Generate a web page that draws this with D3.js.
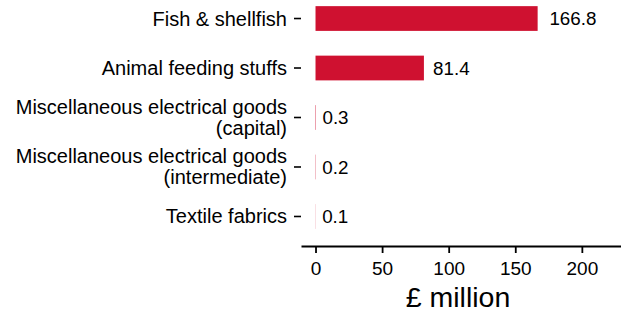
<!DOCTYPE html>
<html>
<head>
<meta charset="utf-8">
<script src="https://cdn.jsdelivr.net/npm/d3@7"></script>
<style>
  body { margin: 0; background: #fff; }
  svg { display: block; font-family: "Liberation Sans", Arial, sans-serif; }
  .axis text { fill: #000; }
  .axis line, .axis path { stroke: #000; }
</style>
</head>
<body>
<svg id="chart" width="621" height="314"></svg>
<script>
const categories = [
  'Fish & shellfish',
  'Animal feeding stuffs',
  'Miscellaneous electrical goods\n(capital)',
  'Miscellaneous electrical goods\n(intermediate)',
  'Textile fabrics'
]
const values = [166.8, 81.4, 0.3, 0.2, 0.1]
const valueLabels = ['166.8', '81.4', '0.3', '0.2', '0.1']
const xTicks = [0, 50, 100, 150, 200]
const xTitle = '£ million'

const data = categories.map((c, i) => ({ cat: c, value: values[i], label: valueLabels[i] }))

const svg = d3.select('#chart')
const axisY = 246

const x = d3.scaleLinear()
  .domain([-10.9, 229.4])
  .range([301, 621])

const y = d3.scaleBand()
  .domain(categories)
  .range([-18.6, 253.6])
  .padding(0.5)

// bars
svg.append('g')
  .selectAll('rect')
  .data(data)
  .join('rect')
    .attr('x', x(0))
    .attr('y', d => y(d.cat))
    .attr('width', d => x(d.value) - x(0))
    .attr('height', y.bandwidth())
    .attr('fill', '#cf1130')

// value labels (hjust -0.25 like the original)
const labels = svg.append('g')
  .selectAll('text')
  .data(data)
  .join('text')
    .attr('y', d => y(d.cat) + y.bandwidth() / 2)
    .attr('dy', '0.35em')
    .attr('font-size', 18.8)
    .attr('fill', '#000')
    .text(d => d.label)
labels.attr('x', function (d) {
  return x(d.value) + 0.25 * this.getComputedTextLength()
})

// y-axis (ticks only)
const yAxis = svg.append('g')
    .attr('class', 'axis y-axis')
    .attr('transform', `translate(301,0)`)
    .call(d3.axisLeft(y).tickSize(7).tickPadding(7))
yAxis.select('.domain').remove()
yAxis.selectAll('line').attr('stroke-width', 1.6)
yAxis.selectAll('text')
  .attr('font-size', 20)
  .each(function (d) {
    const lines = d.split('\n')
    const t = d3.select(this).text(null).attr('dy', null)
    const lh = 21
    lines.forEach((ln, i) => {
      t.append('tspan')
        .attr('x', -14)
        .attr('dy', i === 0 ? (0.35 * 20 - (lines.length - 1) * lh / 2) : lh)
        .text(ln)
    })
  })

// x-axis
const xAxis = svg.append('g')
    .attr('class', 'axis x-axis')
    .attr('transform', `translate(0,${axisY})`)
    .call(d3.axisBottom(x).tickValues(xTicks).tickSize(7).tickSizeOuter(0).tickPadding(9))
xAxis.select('.domain').attr('stroke-width', 2)
xAxis.selectAll('line').attr('stroke-width', 1.8)
xAxis.selectAll('text').attr('font-size', 19)

svg.append('text')
  .attr('x', 458)
  .attr('y', 307)
  .attr('text-anchor', 'middle')
  .attr('font-size', 28.5)
  .attr('fill', '#000')
  .text(xTitle)
</script>
</body>
</html>
